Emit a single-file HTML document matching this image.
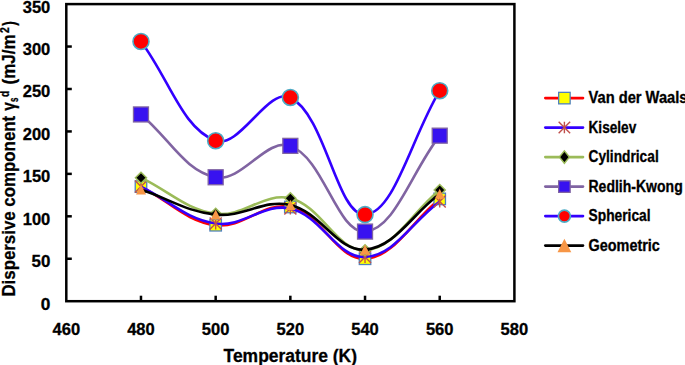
<!DOCTYPE html>
<html><head><meta charset="utf-8"><style>
html,body{margin:0;padding:0;background:#fff;}
body{width:685px;height:365px;overflow:hidden;}
svg{display:block;}
text{font-family:"Liberation Sans",sans-serif;font-weight:bold;fill:#000;stroke:#000;stroke-width:0.3px;}
.tl{font-size:16.4px;}
.at{font-size:18.5px;}
.lg{font-size:15.6px;}
.yt{}
</style></head><body>
<svg width="685" height="365" viewBox="0 0 685 365">
<rect x="66.30" y="4.10" width="448.10" height="297.10" fill="none" stroke="#000" stroke-width="2.5"/>
<path d="M140.98,186.60 C169.61,201.41 185.76,221.15 215.67,225.23 C243.01,228.96 264.11,201.09 290.35,206.98 C321.37,213.94 337.14,260.26 365.03,258.76 C394.40,257.17 411.09,221.85 439.72,198.91" fill="none" stroke="#FF0000" stroke-width="2.6" stroke-linejoin="round"/>
<rect x="135.23" y="180.85" width="11.50" height="11.50" fill="#FFFF00" stroke="#4F81BD" stroke-width="1.3"/>
<rect x="209.92" y="219.48" width="11.50" height="11.50" fill="#FFFF00" stroke="#4F81BD" stroke-width="1.3"/>
<rect x="284.60" y="201.23" width="11.50" height="11.50" fill="#FFFF00" stroke="#4F81BD" stroke-width="1.3"/>
<rect x="359.28" y="253.01" width="11.50" height="11.50" fill="#FFFF00" stroke="#4F81BD" stroke-width="1.3"/>
<rect x="433.97" y="193.16" width="11.50" height="11.50" fill="#FFFF00" stroke="#4F81BD" stroke-width="1.3"/>
<path d="M140.98,186.60 C169.61,200.76 185.76,219.14 215.67,223.53 C243.01,227.54 263.96,202.58 290.35,208.50 C321.21,215.43 337.04,258.38 365.03,257.06 C394.29,255.68 411.09,222.77 439.72,201.46" fill="none" stroke="#3300FF" stroke-width="2.6" stroke-linejoin="round"/>
<path d="M134.98,180.60 L146.98,192.60 M134.98,192.60 L146.98,180.60 M140.98,180.60 L140.98,192.60" stroke="#C0504D" stroke-width="1.4" fill="none"/>
<path d="M209.67,217.53 L221.67,229.53 M209.67,229.53 L221.67,217.53 M215.67,217.53 L215.67,229.53" stroke="#C0504D" stroke-width="1.4" fill="none"/>
<path d="M284.35,202.50 L296.35,214.50 M284.35,214.50 L296.35,202.50 M290.35,202.50 L290.35,214.50" stroke="#C0504D" stroke-width="1.4" fill="none"/>
<path d="M359.03,251.06 L371.03,263.06 M359.03,263.06 L371.03,251.06 M365.03,251.06 L365.03,263.06" stroke="#C0504D" stroke-width="1.4" fill="none"/>
<path d="M433.72,195.46 L445.72,207.46 M433.72,207.46 L445.72,195.46 M439.72,195.46 L439.72,207.46" stroke="#C0504D" stroke-width="1.4" fill="none"/>
<path d="M140.98,177.69 C169.61,191.52 185.84,209.65 215.67,213.77 C243.09,217.56 264.24,191.94 290.35,198.32 C321.50,205.93 337.17,251.82 365.03,250.27 C394.43,248.63 411.09,213.10 439.72,190.00" fill="none" stroke="#9BBB59" stroke-width="2.6" stroke-linejoin="round"/>
<path d="M140.98,172.19 L146.48,177.69 L140.98,183.19 L135.48,177.69 Z" fill="#000" stroke="#9BBB59" stroke-width="1.5"/>
<path d="M215.67,208.27 L221.17,213.77 L215.67,219.27 L210.17,213.77 Z" fill="#000" stroke="#9BBB59" stroke-width="1.5"/>
<path d="M290.35,192.82 L295.85,198.32 L290.35,203.82 L284.85,198.32 Z" fill="#000" stroke="#9BBB59" stroke-width="1.5"/>
<path d="M365.03,244.77 L370.53,250.27 L365.03,255.77 L359.53,250.27 Z" fill="#000" stroke="#9BBB59" stroke-width="1.5"/>
<path d="M439.72,184.50 L445.22,190.00 L439.72,195.50 L434.22,190.00 Z" fill="#000" stroke="#9BBB59" stroke-width="1.5"/>
<path d="M140.98,114.45 C169.61,138.53 184.38,170.69 215.67,177.27 C241.64,182.73 266.53,137.19 290.35,145.86 C323.78,158.02 337.36,233.48 365.03,231.59 C394.62,229.58 411.09,172.44 439.72,135.67" fill="none" stroke="#8064A2" stroke-width="2.6" stroke-linejoin="round"/>
<rect x="133.48" y="106.95" width="15.00" height="15.00" fill="#3812F0" stroke="#8064A2" stroke-width="1.3"/>
<rect x="208.17" y="169.77" width="15.00" height="15.00" fill="#3812F0" stroke="#8064A2" stroke-width="1.3"/>
<rect x="282.85" y="138.36" width="15.00" height="15.00" fill="#3812F0" stroke="#8064A2" stroke-width="1.3"/>
<rect x="357.53" y="224.09" width="15.00" height="15.00" fill="#3812F0" stroke="#8064A2" stroke-width="1.3"/>
<rect x="432.22" y="128.17" width="15.00" height="15.00" fill="#3812F0" stroke="#8064A2" stroke-width="1.3"/>
<path d="M140.98,41.45 C169.61,79.52 181.88,128.09 215.67,140.77 C239.14,149.57 268.41,86.63 290.35,97.47 C325.66,114.93 336.99,215.89 365.03,214.62 C394.24,213.29 411.09,138.19 439.72,90.68" fill="none" stroke="#3300FF" stroke-width="2.6" stroke-linejoin="round"/>
<circle cx="140.98" cy="41.45" r="8.00" fill="#FF0000" stroke="#4BACC6" stroke-width="1.6"/>
<circle cx="215.67" cy="140.77" r="8.00" fill="#FF0000" stroke="#4BACC6" stroke-width="1.6"/>
<circle cx="290.35" cy="97.47" r="8.00" fill="#FF0000" stroke="#4BACC6" stroke-width="1.6"/>
<circle cx="365.03" cy="214.62" r="8.00" fill="#FF0000" stroke="#4BACC6" stroke-width="1.6"/>
<circle cx="439.72" cy="90.68" r="8.00" fill="#FF0000" stroke="#4BACC6" stroke-width="1.6"/>
<path d="M140.98,189.58 C169.61,199.17 186.39,211.61 215.67,214.62 C243.65,217.50 263.79,198.71 290.35,204.94 C321.05,212.15 337.39,251.73 365.03,249.67 C394.65,247.47 411.09,215.23 439.72,193.82" fill="none" stroke="#000000" stroke-width="2.6" stroke-linejoin="round"/>
<path d="M140.98,184.48 L145.98,194.58 L135.98,194.58 Z" fill="#F79646"/>
<path d="M215.67,209.52 L220.67,219.62 L210.67,219.62 Z" fill="#F79646"/>
<path d="M290.35,199.84 L295.35,209.94 L285.35,209.94 Z" fill="#F79646"/>
<path d="M365.03,244.57 L370.03,254.67 L360.03,254.67 Z" fill="#F79646"/>
<path d="M439.72,188.72 L444.72,198.82 L434.72,198.82 Z" fill="#F79646"/>
<text x="50.30" y="309.50" text-anchor="end" class="tl" textLength="9.6" lengthAdjust="spacingAndGlyphs">0</text>
<line x1="66.30" y1="258.76" x2="71.80" y2="258.76" stroke="#000" stroke-width="2.5"/>
<text x="50.30" y="267.06" text-anchor="end" class="tl" textLength="18.8" lengthAdjust="spacingAndGlyphs">50</text>
<line x1="66.30" y1="216.31" x2="71.80" y2="216.31" stroke="#000" stroke-width="2.5"/>
<text x="50.30" y="224.61" text-anchor="end" class="tl" textLength="27.6" lengthAdjust="spacingAndGlyphs">100</text>
<line x1="66.30" y1="173.87" x2="71.80" y2="173.87" stroke="#000" stroke-width="2.5"/>
<text x="50.30" y="182.17" text-anchor="end" class="tl" textLength="27.6" lengthAdjust="spacingAndGlyphs">150</text>
<line x1="66.30" y1="131.43" x2="71.80" y2="131.43" stroke="#000" stroke-width="2.5"/>
<text x="50.30" y="139.73" text-anchor="end" class="tl" textLength="27.6" lengthAdjust="spacingAndGlyphs">200</text>
<line x1="66.30" y1="88.99" x2="71.80" y2="88.99" stroke="#000" stroke-width="2.5"/>
<text x="50.30" y="97.29" text-anchor="end" class="tl" textLength="27.6" lengthAdjust="spacingAndGlyphs">250</text>
<line x1="66.30" y1="46.54" x2="71.80" y2="46.54" stroke="#000" stroke-width="2.5"/>
<text x="50.30" y="54.84" text-anchor="end" class="tl" textLength="27.6" lengthAdjust="spacingAndGlyphs">300</text>
<text x="50.30" y="13.00" text-anchor="end" class="tl" textLength="27.6" lengthAdjust="spacingAndGlyphs">350</text>
<text x="66.30" y="335.40" text-anchor="middle" class="tl" textLength="27.6" lengthAdjust="spacingAndGlyphs">460</text>
<line x1="140.98" y1="301.20" x2="140.98" y2="295.70" stroke="#000" stroke-width="2.5"/>
<text x="140.98" y="335.40" text-anchor="middle" class="tl" textLength="27.6" lengthAdjust="spacingAndGlyphs">480</text>
<line x1="215.67" y1="301.20" x2="215.67" y2="295.70" stroke="#000" stroke-width="2.5"/>
<text x="215.67" y="335.40" text-anchor="middle" class="tl" textLength="27.6" lengthAdjust="spacingAndGlyphs">500</text>
<line x1="290.35" y1="301.20" x2="290.35" y2="295.70" stroke="#000" stroke-width="2.5"/>
<text x="290.35" y="335.40" text-anchor="middle" class="tl" textLength="27.6" lengthAdjust="spacingAndGlyphs">520</text>
<line x1="365.03" y1="301.20" x2="365.03" y2="295.70" stroke="#000" stroke-width="2.5"/>
<text x="365.03" y="335.40" text-anchor="middle" class="tl" textLength="27.6" lengthAdjust="spacingAndGlyphs">540</text>
<line x1="439.72" y1="301.20" x2="439.72" y2="295.70" stroke="#000" stroke-width="2.5"/>
<text x="439.72" y="335.40" text-anchor="middle" class="tl" textLength="27.6" lengthAdjust="spacingAndGlyphs">560</text>
<text x="514.40" y="335.40" text-anchor="middle" class="tl" textLength="27.6" lengthAdjust="spacingAndGlyphs">580</text>
<text x="290.30" y="361.70" text-anchor="middle" class="at" style="font-size:17.5px" textLength="133.5" lengthAdjust="spacingAndGlyphs">Temperature (K)</text>
<g transform="rotate(-90)"><text x="-296.60" y="14.80" font-size="18.5" class="yt" textLength="180.80" lengthAdjust="spacingAndGlyphs">Dispersive component</text><text x="-110.80" y="14.80" font-size="18.5" class="yt" textLength="8.60" lengthAdjust="spacingAndGlyphs">γ</text><text x="-102.00" y="18.00" font-size="12.5" class="yt" textLength="4.40" lengthAdjust="spacingAndGlyphs">s</text><text x="-96.90" y="8.90" font-size="12.0" class="yt" textLength="6.20" lengthAdjust="spacingAndGlyphs">d</text><text x="-84.50" y="14.80" font-size="18.5" class="yt" textLength="50.30" lengthAdjust="spacingAndGlyphs">(mJ/m</text><text x="-33.10" y="9.10" font-size="12.0" class="yt" textLength="5.80" lengthAdjust="spacingAndGlyphs">2</text><text x="-25.70" y="14.80" font-size="18.5" class="yt" textLength="4.70" lengthAdjust="spacingAndGlyphs">)</text></g>
<line x1="545.3" y1="98.10" x2="583.0" y2="98.10" stroke="#FF0000" stroke-width="2.6" stroke-linecap="round"/>
<rect x="558.65" y="92.35" width="11.50" height="11.50" fill="#FFFF00" stroke="#4F81BD" stroke-width="1.3"/>
<text x="588.50" y="103.40" class="lg" textLength="99.0" lengthAdjust="spacingAndGlyphs">Van der Waals</text>
<line x1="545.3" y1="127.60" x2="583.0" y2="127.60" stroke="#3300FF" stroke-width="2.6" stroke-linecap="round"/>
<path d="M558.65,121.85 L570.15,133.35 M558.65,133.35 L570.15,121.85 M564.40,121.85 L564.40,133.35" stroke="#C0504D" stroke-width="1.4" fill="none"/>
<text x="588.50" y="132.90" class="lg" textLength="47.8" lengthAdjust="spacingAndGlyphs">Kiselev</text>
<line x1="545.3" y1="157.10" x2="583.0" y2="157.10" stroke="#9BBB59" stroke-width="2.6" stroke-linecap="round"/>
<path d="M564.40,150.90 L569.40,157.10 L564.40,163.30 L559.40,157.10 Z" fill="#000" stroke="#9BBB59" stroke-width="1.5"/>
<text x="588.50" y="162.40" class="lg" textLength="70.2" lengthAdjust="spacingAndGlyphs">Cylindrical</text>
<line x1="545.3" y1="186.60" x2="583.0" y2="186.60" stroke="#8064A2" stroke-width="2.6" stroke-linecap="round"/>
<rect x="558.65" y="180.85" width="11.50" height="11.50" fill="#3812F0" stroke="#8064A2" stroke-width="1.3"/>
<text x="588.50" y="191.90" class="lg" textLength="94.2" lengthAdjust="spacingAndGlyphs">Redlih-Kwong</text>
<line x1="545.3" y1="216.10" x2="583.0" y2="216.10" stroke="#3300FF" stroke-width="2.6" stroke-linecap="round"/>
<circle cx="564.40" cy="216.10" r="6.00" fill="#FF0000" stroke="#4BACC6" stroke-width="1.6"/>
<text x="588.50" y="221.40" class="lg" textLength="62.1" lengthAdjust="spacingAndGlyphs">Spherical</text>
<line x1="545.3" y1="245.60" x2="583.0" y2="245.60" stroke="#000000" stroke-width="2.6" stroke-linecap="round"/>
<path d="M564.40,238.70 L571.30,252.20 L557.50,252.20 Z" fill="#F79646"/>
<text x="588.50" y="250.90" class="lg" textLength="71.4" lengthAdjust="spacingAndGlyphs">Geometric</text>
</svg>
</body></html>
